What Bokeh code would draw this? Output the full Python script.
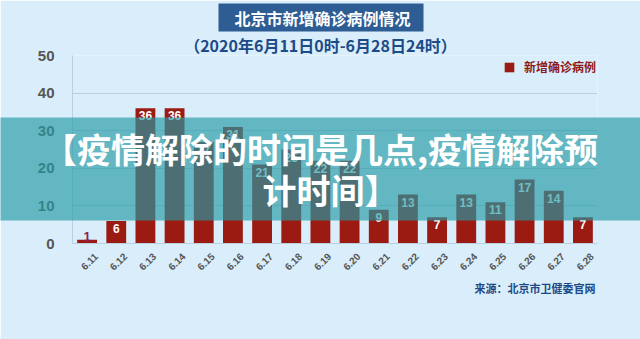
import math
from bokeh.plotting import figure
from bokeh.models import (Legend, LegendItem, ColumnDataSource, FixedTicker, Range1d)
from bokeh.core.properties import value
from bokeh.embed import file_html
from bokeh.resources import INLINE

# ---- data ----
dates = ["6.11", "6.12", "6.13", "6.14", "6.15", "6.16", "6.17", "6.18", "6.19",
         "6.20", "6.21", "6.22", "6.23", "6.24", "6.25", "6.26", "6.27", "6.28"]
cases = [1, 6, 36, 36, 27, 31, 21, 25, 22, 22, 9, 13, 7, 13, 11, 17, 14, 7]
y_ticks = [0, 10, 20, 30, 40, 50]
title_text = "北京市新增确诊病例情况"
subtitle_text = "（2020年6月11日0时-6月28日24时）"
legend_text = "新增确诊病例"
source_text = "来源：北京市卫健委官网"
banner_line1 = "【疫情解除的时间是几点,疫情解除预"
banner_line2 = "计时间】"

BG = "#d9eefa"
BAR = "#9b1b12"
CJK = "Noto Sans CJK SC"
LAT = "Liberation Sans"

FL, FR, FT, FB = 72, 597, 55, 243   # frame edges in page pixels
idx = list(range(len(dates)))
LABEL_SHIFT = 0.3                   # centre rotated date labels under bars
tick_pos = [i + LABEL_SHIFT for i in idx]

p = figure(x_range=Range1d(-0.5, len(dates) - 0.5), y_range=(0, 50),
           width=640, height=339,
           min_border_left=FL, min_border_right=640 - FR, min_border_top=FT,
           min_border_bottom=339 - FB, output_backend="svg", toolbar_location=None,
           background_fill_color=BG, border_fill_color=BG,
           outline_line_color=None)
# page-pixel coordinate system for decorations
p.extra_x_ranges = {"px": Range1d(start=FL, end=FR)}
p.extra_y_ranges = {"px": Range1d(start=FB, end=FT)}

src = ColumnDataSource(dict(x=idx, v=cases))
bars = p.vbar(x="x", top="v", width=0.68, source=src, fill_color=BAR,
              line_color=None)

big = [i for i, c in enumerate(cases) if c >= 3]
small = [i for i, c in enumerate(cases) if c < 3]
src_in = ColumnDataSource(dict(x=big, v=[cases[i] for i in big],
                               t=[str(cases[i]) for i in big]))
src_out = ColumnDataSource(dict(x=small, v=[cases[i] for i in small],
                                t=[str(cases[i]) for i in small]))
p.text(x="x", y="v", text="t", source=src_in, text_align="center",
       text_baseline="top", y_offset=3, text_color="white",
       text_font_size="12px", text_font_style="bold", text_font=value(LAT))
p.text(x="x", y="v", text="t", source=src_out, text_align="center",
       text_baseline="bottom", y_offset=1, text_color="#8b2252",
       text_font_size="13px", text_font_style="bold", text_font=value(LAT))

# axes
p.yaxis.ticker = FixedTicker(ticks=y_ticks)
p.yaxis.major_tick_line_color = None
p.yaxis.minor_tick_line_color = None
p.yaxis.axis_line_color = "#b9d0e0"
p.yaxis.major_label_text_font = LAT
p.yaxis.major_label_text_font_style = "bold"
p.yaxis.major_label_text_font_size = "15px"
p.yaxis.major_label_text_color = "#555555"
p.yaxis.major_label_standoff = 12

p.xaxis.ticker = FixedTicker(ticks=tick_pos)
p.xaxis.major_label_overrides = {t: d for t, d in zip(tick_pos, dates)}
p.xaxis.major_tick_line_color = None
p.xaxis.minor_tick_line_color = None
p.xaxis.axis_line_color = "#b9d0e0"
p.xaxis.major_label_orientation = math.pi / 4
p.xaxis.major_label_text_font = LAT
p.xaxis.major_label_text_font_size = "10px"
p.xaxis.major_label_text_font_style = "bold"
p.xaxis.major_label_text_color = "#555555"
p.xaxis.major_label_standoff = 5

p.xgrid.grid_line_color = None
p.ygrid.grid_line_color = "#b9d0e0"

# legend
legend = Legend(items=[LegendItem(label=legend_text, renderers=[bars])],
                location=(431, 168), orientation="vertical",
                background_fill_alpha=0, border_line_color=None,
                padding=0, margin=0, spacing=0, label_standoff=9,
                glyph_width=12, glyph_height=12, label_height=12,
                label_text_font=CJK, label_text_font_style="bold",
                label_text_font_size="12px", label_text_color="#8b1a1a")
p.add_layout(legend)

PX = dict(x_range_name="px", y_range_name="px", level="overlay")

# title box, subtitle, source
p.quad(left=[218], right=[423], top=[3], bottom=[31], fill_color="#2d5d93",
       line_color=None, **PX)
p.text(x=[322], y=[17], text=[title_text], text_align="center",
       text_baseline="middle", text_color="white", text_font=value(CJK),
       text_font_style="bold", text_font_size="16px", **PX)
p.text(x=[320], y=[44], text=[subtitle_text], text_align="center",
       text_baseline="middle", text_color="#1d4b88", text_font=value(CJK),
       text_font_style="bold", text_font_size="16px", **PX)
p.text(x=[595], y=[287], text=[source_text], text_align="right",
       text_baseline="middle", text_color="#1d4b88", text_font=value(CJK),
       text_font_style="bold", text_font_size="11px", **PX)

# banner overlay
p.quad(left=[0], right=[640], top=[117], bottom=[220], fill_color="#249ba5",
       fill_alpha=0.66, line_color=None, **PX)
p.text(x=[320], y=[148], text=[banner_line1], text_align="center",
       text_baseline="middle", text_color="white", text_font=value(CJK),
       text_font_style="bold", text_font_size="34px", **PX)
p.text(x=[330], y=[189], text=[banner_line2], text_align="center",
       text_baseline="middle", text_color="white", text_font=value(CJK),
       text_font_style="bold", text_font_size="34px", **PX)

open("out.html", "w").write(file_html(p, INLINE))
